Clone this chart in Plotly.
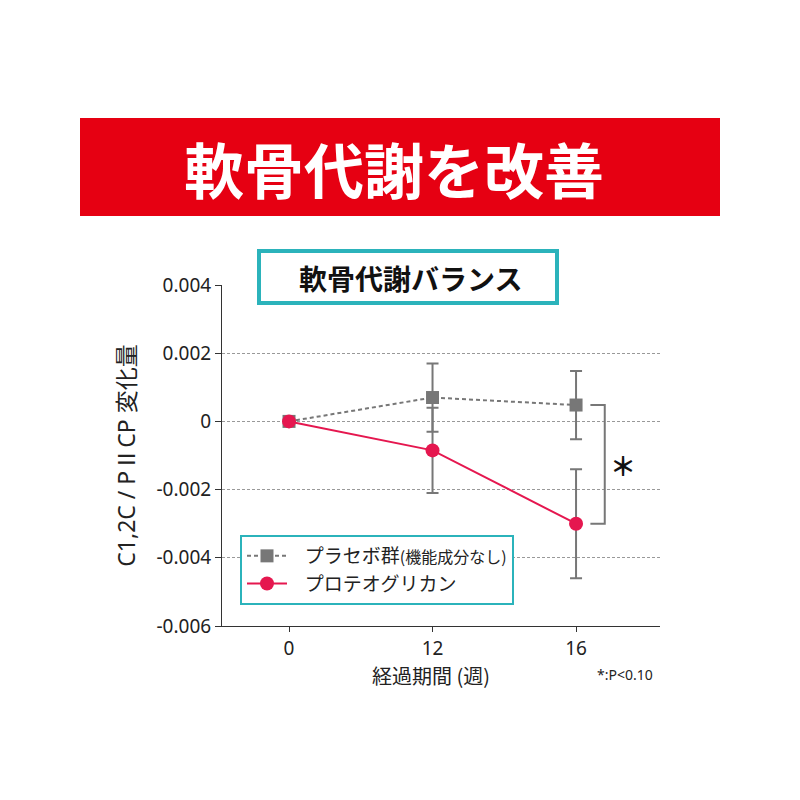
import plotly.graph_objects as go

weeks = ["0", "12", "16"]
x_idx = [0, 1, 2]
placebo = [0.0, 0.0007, 0.00048]
placebo_err = [0.0, 0.001, 0.001]
proteo = [0.0, -0.00085, -0.003]
proteo_err = [0.0, 0.00125, 0.0016]
y_ticks = [0.004, 0.002, 0, -0.002, -0.004, -0.006]
y_ticktext = ["0.004", "0.002", "0", "-0.002", "-0.004", "-0.006"]

FONT = "Noto Sans CJK JP"
LFONT = "Noto Sans, Noto Sans CJK JP"
GRAY = "#777777"
RED = "#e5174f"
TEAL = "#2bb3bb"


def px(x):
    return (x - 222) / 438


def py(y):
    return (626 - y) / 341


fig = go.Figure()
fig.add_trace(go.Scatter(
    x=x_idx, y=placebo, mode="lines+markers",
    name="&nbsp;&nbsp;&nbsp;プラセボ群<span style='font-size:16px'>(機能成分なし)</span>",
    line=dict(color=GRAY, width=2, dash="4px,3px"),
    marker=dict(symbol="square", size=13, color=GRAY),
    error_y=dict(type="data", array=placebo_err, color=GRAY, thickness=2, width=6),
))
fig.add_trace(go.Scatter(
    x=x_idx, y=proteo, mode="lines+markers",
    name="&nbsp;&nbsp;&nbsp;プロテオグリカン",
    line=dict(color=RED, width=2),
    marker=dict(symbol="circle", size=14, color=RED),
    error_y=dict(type="data", array=proteo_err, color=GRAY, thickness=2, width=6),
))

# significance bracket between week-16 means
bx0, bx1 = 2.10, 2.20
fig.add_shape(type="path", xref="x", yref="y",
              path=f"M {bx0} {placebo[2]} L {bx1} {placebo[2]} L {bx1} {proteo[2]} L {bx0} {proteo[2]}",
              line=dict(color=GRAY, width=2))
fig.add_annotation(x=2.33, y=(placebo[2] + proteo[2]) / 2, xref="x", yref="y",
                   xanchor="center", yanchor="middle",
                   text="<b>＊</b>", showarrow=False, font=dict(family=FONT, size=26, color="#111"))

# header banner
fig.add_shape(type="rect", xref="paper", yref="paper",
              x0=px(80), x1=px(720), y0=py(216), y1=py(118),
              fillcolor="#e60012", line=dict(width=0), layer="above")
fig.add_annotation(x=px(394), y=py(167), xref="paper", yref="paper",
                   xanchor="center", yanchor="middle",
                   text="<b>軟骨代謝を改善</b>", showarrow=False,
                   font=dict(family=FONT, size=60, color="white"))

# subtitle box
fig.add_shape(type="rect", xref="paper", yref="paper",
              x0=px(259), x1=px(557), y0=py(303), y1=py(251),
              fillcolor="white", line=dict(color=TEAL, width=4), layer="above")
fig.add_annotation(x=px(410), y=py(278), xref="paper", yref="paper",
                   xanchor="center", yanchor="middle",
                   text="<b>軟骨代謝バランス</b>", showarrow=False,
                   font=dict(family=FONT, size=28, color="#111"))

# x-axis title (offset left of plot centre as in the reference)
fig.add_annotation(x=px(431), y=py(675), xref="paper", yref="paper",
                   xanchor="center", yanchor="middle",
                   text="経過期間 (週)", showarrow=False,
                   font=dict(family=FONT, size=20, color="#222"))
fig.add_annotation(x=px(625), y=py(674), xref="paper", yref="paper",
                   xanchor="center", yanchor="middle",
                   text="*:P<0.10", showarrow=False,
                   font=dict(family=LFONT, size=14, color="#222"))

fig.update_layout(
    width=800, height=800,
    margin=dict(l=222, r=140, t=285, b=174),
    paper_bgcolor="white", plot_bgcolor="white",
    font=dict(family=FONT, color="#222"),
    legend=dict(x=px(240), y=py(535), xanchor="left", yanchor="top",
                bgcolor="white", bordercolor=TEAL, borderwidth=2,
                font=dict(family=FONT, size=19, color="#222"),
                itemwidth=40, tracegroupgap=0),
    showlegend=True,
)
fig.update_xaxes(range=[-0.467, 2.585], tickvals=x_idx, ticktext=weeks,
                 showgrid=False, zeroline=False, showline=True, linecolor="#333", linewidth=1,
                 ticks="outside", ticklen=5, tickcolor="#333",
                 tickfont=dict(family=LFONT, size=19, color="#222"))
fig.update_yaxes(range=[-0.006, 0.004], tickvals=y_ticks, ticktext=y_ticktext,
                 showgrid=True, gridcolor="#999999", griddash="3px,2px", gridwidth=1,
                 zeroline=False, showline=True, linecolor="#333", linewidth=1,
                 ticks="outside", ticklen=6, tickcolor="#333",
                 tickfont=dict(family=LFONT, size=19, color="#222"),
                 title=dict(text="C1,2C / PⅡCP 変化量", font=dict(family=LFONT, size=23, color="#222"), standoff=14))

fig.write_html("out.html")
